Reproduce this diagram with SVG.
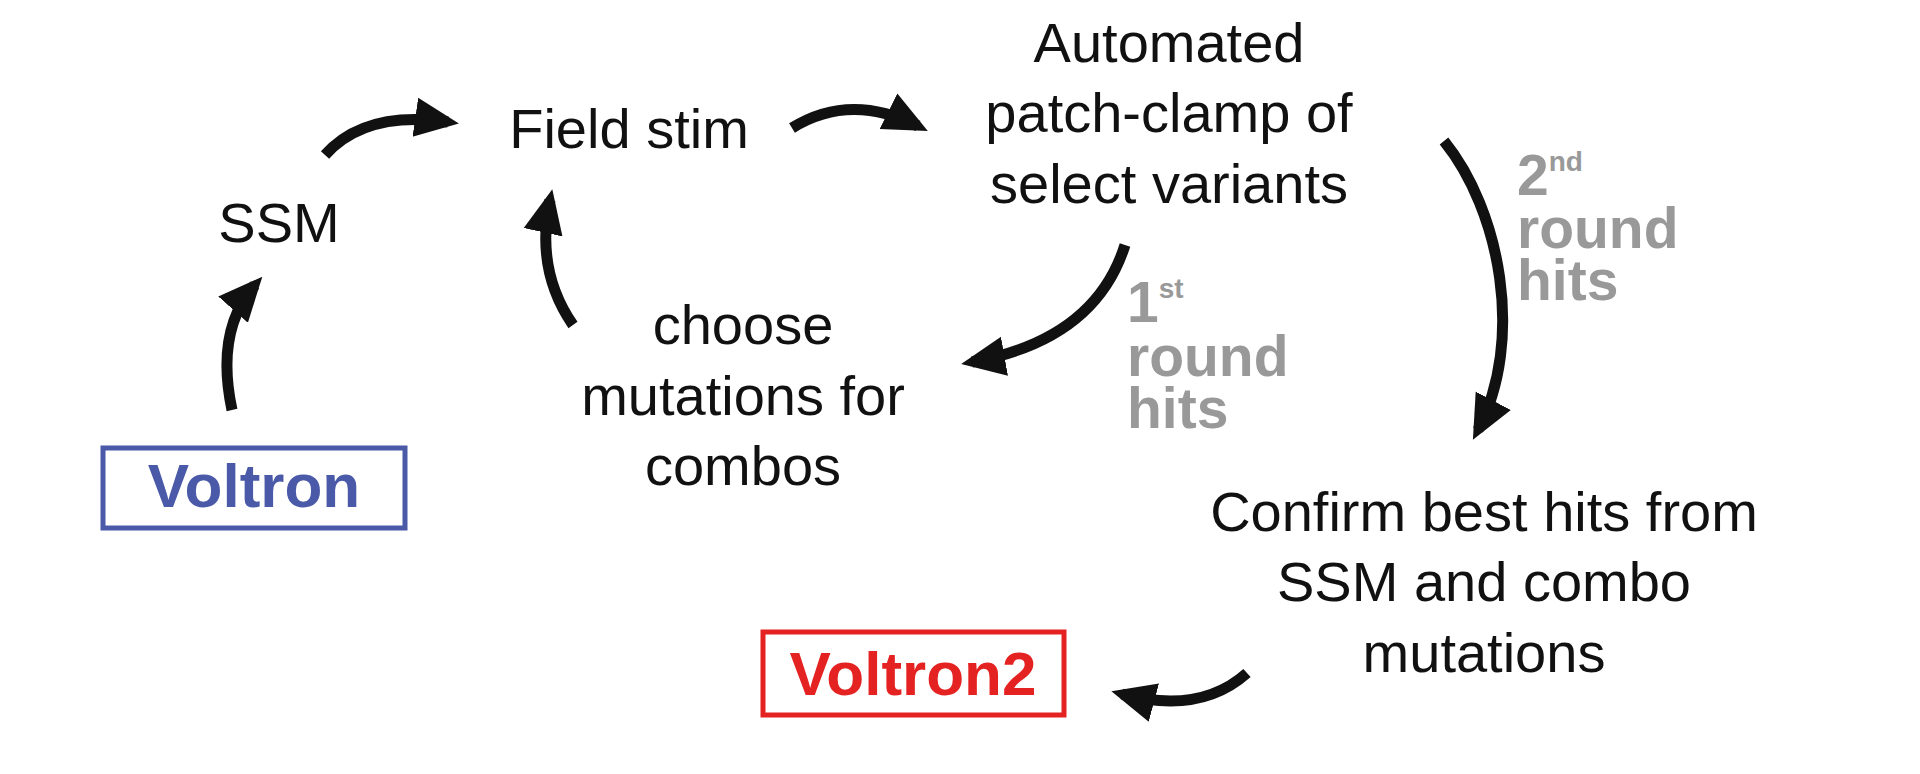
<svg xmlns="http://www.w3.org/2000/svg" width="1920" height="774" viewBox="0 0 1920 774">
<style>
.t{font-family:"Liberation Sans",Arial,sans-serif;font-size:56px;fill:#111;text-anchor:middle}
.g{font-family:"Liberation Sans",Arial,sans-serif;font-size:57px;font-weight:bold;fill:#999}
.s{font-size:28px}
.c{fill:none;stroke:#111;stroke-width:11}
</style>
<defs>
<marker id="ah" markerUnits="userSpaceOnUse" markerWidth="44" markerHeight="44" refX="30" refY="20" orient="auto" viewBox="0 0 40 40">
<path d="M0,2 L40,20 L0,38 Z" fill="#111"/>
</marker>
</defs>
<rect width="1920" height="774" fill="#fff"/>
<g id="voltron"><rect x="103" y="448" width="302" height="80" fill="none" stroke="#4a5aa8" stroke-width="5"/><text x="254" y="507" style="font-family:'Liberation Sans',Arial,sans-serif;font-size:62px;font-weight:bold;fill:#4a5aa8;text-anchor:middle">Voltron</text></g>
<g id="voltron2"><rect x="763" y="632" width="301" height="83" fill="none" stroke="#e52222" stroke-width="5"/><text x="913" y="695" style="font-family:'Liberation Sans',Arial,sans-serif;font-size:62px;font-weight:bold;fill:#e52222;text-anchor:middle">Voltron2</text></g>
<g id="ssm"><text class="t" x="279" y="242">SSM</text></g>
<g id="fieldstim"><text class="t" x="629" y="148">Field stim</text></g>
<g id="patch"><text class="t" x="1169" y="62">Automated</text><text class="t" x="1169" y="132">patch-clamp of</text><text class="t" x="1169" y="203">select variants</text></g>
<g id="choose"><text class="t" x="743" y="344">choose</text><text class="t" x="743" y="415">mutations for</text><text class="t" x="743" y="485">combos</text></g>
<g id="confirm"><text class="t" x="1484" y="531">Confirm best hits from</text><text class="t" x="1484" y="601">SSM and combo</text><text class="t" x="1484" y="672">mutations</text></g>
<g id="first"><text class="g" x="1127" y="322">1<tspan class="s" dy="-24">st</tspan></text><text class="g" x="1127" y="376">round</text><text class="g" x="1127" y="428">hits</text></g>
<g id="second"><text class="g" x="1517" y="195">2<tspan class="s" dy="-24">nd</tspan></text><text class="g" x="1517" y="248">round</text><text class="g" x="1517" y="300">hits</text></g>
<g id="connectors">
<path class="c" marker-end="url(#ah)" d="M232,410 Q215,330 255,285"/>
<path class="c" marker-end="url(#ah)" d="M325,155 Q365,110 448,122"/>
<path class="c" marker-end="url(#ah)" d="M792,128 Q850,92 918,126"/>
<path class="c" marker-end="url(#ah)" d="M573,325 Q535,270 550,200"/>
<path class="c" marker-end="url(#ah)" d="M1125,245 Q1095,340 972,362"/>
<path class="c" marker-end="url(#ah)" d="M1444,141 C1500,210 1525,340 1478,430"/>
<path class="c" marker-end="url(#ah)" d="M1247,673 Q1200,715 1122,694"/>
</g>
</svg>
